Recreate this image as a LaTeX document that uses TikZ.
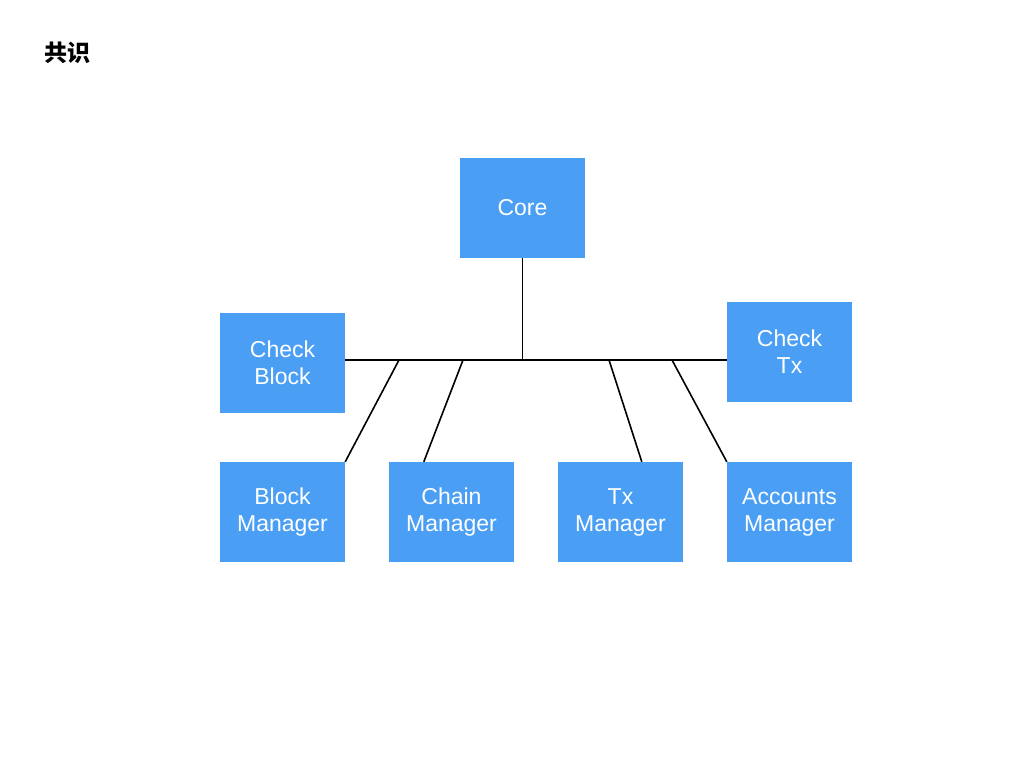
\documentclass[tikz,border=0pt]{standalone}
\usepackage{fontspec}
\setmainfont{Liberation Sans}
\newfontfamily\cjk{Noto Sans CJK SC}
\definecolor{boxblue}{HTML}{4A9FF5}
\tikzset{
    module/.style={fill=boxblue, minimum width=125pt, minimum height=100pt, inner sep=0pt,
        text=white, align=center, font=\fontsize{23}{27}\selectfont},
    link/.style={draw=black, line width=1.6pt}
}
\begin{document}
\begin{tikzpicture}[x=1pt, y=-1pt]
        \useasboundingbox (0,0) rectangle (1024,768);
        % title
        \node[font=\cjk\bfseries\fontsize{23}{26}\selectfont, anchor=west, inner sep=0pt] (title) at (44,53) {共识};

        % modules
        \node[module] (core) at (522.5,208) {Core};
        \node[module] (checkblock) at (282.5,363) {Check\\Block};
        \node[module] (checktx) at (789.5,352) {Check\\Tx};
        \node[module] (blockmgr) at (282.5,512) {Block\\Manager};
        \node[module] (chainmgr) at (451.5,512) {Chain\\Manager};
        \node[module] (txmgr) at (620.5,512) {Tx\\Manager};
        \node[module] (accmgr) at (789.5,512) {Accounts\\Manager};

        % bus
        \coordinate (bus) at (522.5,360);
        \coordinate (j1) at (399,360);
        \coordinate (j2) at (463,360);
        \coordinate (j3) at (609,360);
        \coordinate (j4) at (672,360);
        \draw[link] (checkblock.east |- bus) -- (checktx.west |- bus);
        \draw[link] (core.south) -- (bus);
        \draw[link] (j1) -- (blockmgr.north east);
        \draw[link] (j2) -- ([xshift=35pt]chainmgr.north west);
        \draw[link] (j3) -- ([xshift=84pt]txmgr.north west);
        \draw[link] (j4) -- (accmgr.north west);
    \end{tikzpicture}
\end{document}
